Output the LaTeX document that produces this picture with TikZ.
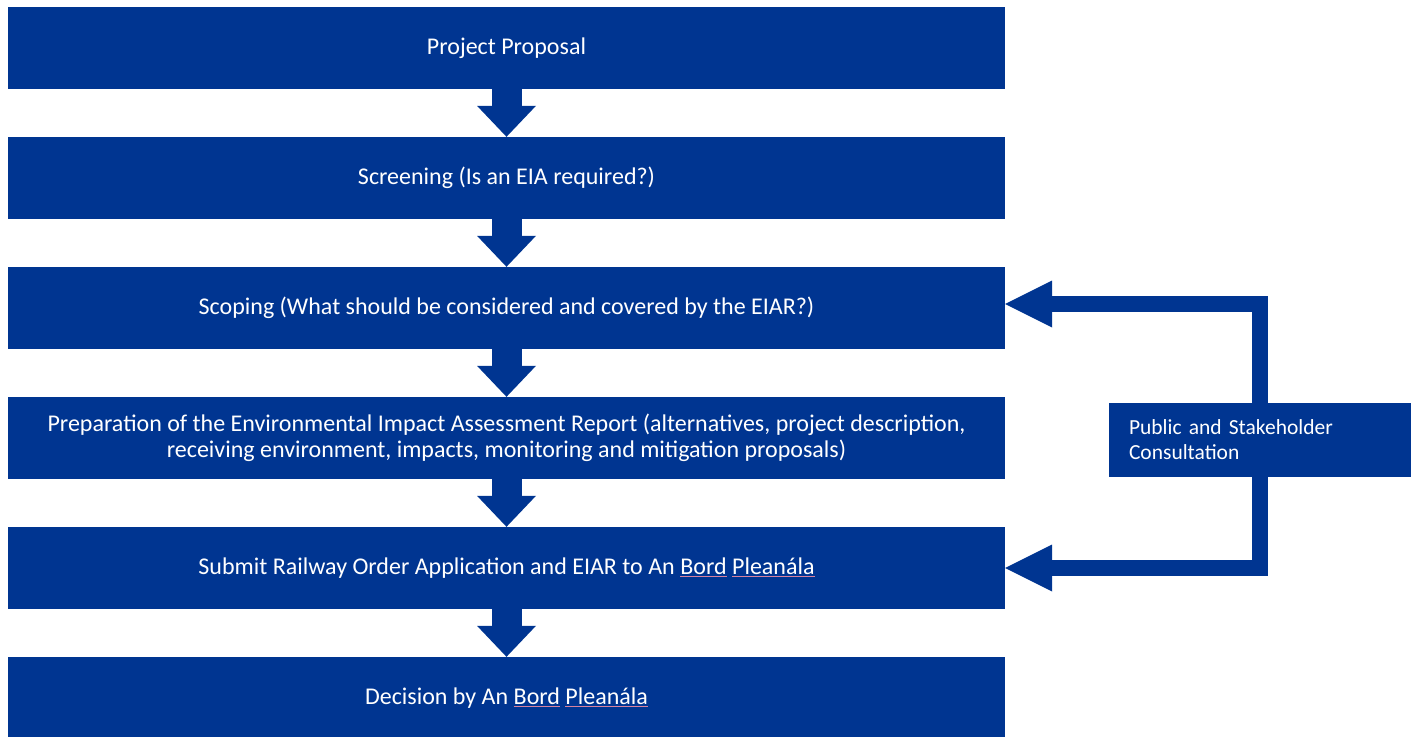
\documentclass[tikz,border=0pt]{standalone}
\usepackage{fontspec}
\setmainfont{Carlito}
\usepackage{tikz}
\usetikzlibrary{positioning,arrows.meta}

\definecolor{eiablue}{RGB}{0,53,145}
\definecolor{spellred}{RGB}{214,130,160}
% words marked with a thin underline
\newcommand{\spellmark}[1]{\textcolor{spellred}{\underline{\textcolor{white}{#1}}}}

\begin{document}
\begin{tikzpicture}[x=1bp, y=-1bp,
    font=\fontsize{24bp}{26bp}\selectfont,
    stage/.style={
      rectangle, fill=eiablue, text=white, align=center,
      inner sep=0pt, minimum width=997bp, minimum height=82bp
    },
    flow/.style={
      draw=eiablue, line width=30bp,
      -{Triangle[width=59bp, length=31bp, line width=0pt]}
    },
    feedback/.style={
      draw=eiablue, line width=16bp,
      -{Triangle[width=47bp, length=47bp, line width=0pt]}
    }
  ]
    \useasboundingbox (0,0) rectangle (1411,736);

    \node [stage] (pp) at (506.5,48) {Project Proposal};
    \node [stage, below=47.6bp of pp] (scr) {Screening (Is an EIA required?)};
    \node [stage, below=47.6bp of scr] (scp)
      {Scoping (What should be considered and covered by the EIAR?)};
    \node [stage, below=47.6bp of scp] (eiar) {
      Preparation of the Environmental Impact Assessment Report (alternatives, project description,\\
      receiving environment, impacts, monitoring and mitigation proposals)
    };
    \node [stage, below=47.6bp of eiar] (sub)
      {Submit Railway Order Application and EIAR to An \spellmark{Bord} \spellmark{Pleanála}};
    \node [stage, below=47.6bp of sub] (dec)
      {Decision by An \spellmark{Bord} \spellmark{Pleanála}};

    % consultation box on the right
    \node [
      rectangle, fill=eiablue, text=white, align=left,
      font=\fontsize{21.5bp}{25bp}\selectfont,
      inner xsep=20bp, inner ysep=0pt, text width=262bp,
      minimum height=74bp
    ] (psc) at (1260,440) {Public and Stakeholder\\Consultation};

    \draw [flow] (pp) -- (scr);
    \draw [flow] (scr) -- (scp);
    \draw [flow] (scp) -- (eiar);
    \draw [flow] (eiar) -- (sub);
    \draw [flow] (sub) -- (dec);

    \draw [feedback] (psc.north) |- ([yshift=4bp]scp.east);
    \draw [feedback] (psc.south) |- (sub.east);
\end{tikzpicture}
\end{document}
